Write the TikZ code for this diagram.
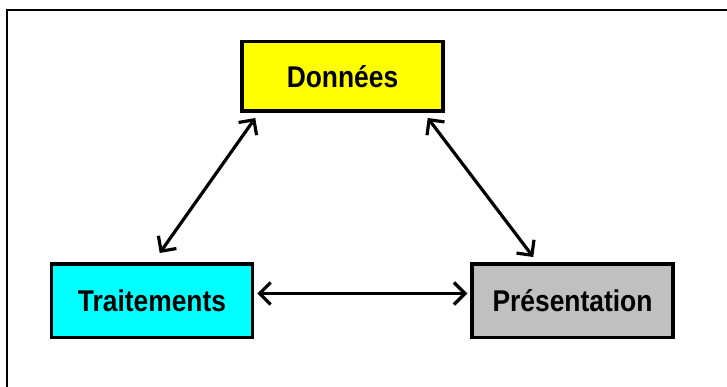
\documentclass[tikz,border=0pt]{standalone}
\usepackage{fontspec}
\setmainfont{Liberation Sans}
\newfontfamily\labelfont[FakeStretch=0.88]{Liberation Sans Bold}
\usetikzlibrary{arrows.meta,calc}
\definecolor{boxyellow}{RGB}{255,255,0}
\definecolor{boxcyan}{RGB}{0,255,255}
\definecolor{boxgray}{RGB}{192,192,192}
\begin{document}
\begin{tikzpicture}[x=1pt,y=-1pt,
  block/.style={draw=black,line width=3.5pt,minimum width=201pt,
    inner sep=0pt,font=\labelfont\fontsize{30}{34}\selectfont},
  link/.style={line width=3.2pt,{Straight Barb[length=11pt,width=22pt]}-{Straight Barb[length=11pt,width=22pt]}}]
  \useasboundingbox (0,0) rectangle (727,387);
  % clipped frame: only its top and left sides
  \draw[line width=2pt] (7,387) -- (7,10) -- (727,10);
  % the three blocks
  \node[block,fill=boxyellow,minimum height=69.5pt] (don) at (342.5,76.5) {Données};
  \node[block,fill=boxcyan,minimum height=73.5pt] (tra) at (152,300.5) {Traitements};
  \node[block,fill=boxgray,minimum height=73.5pt] (pre) at (572.5,300.5) {Présentation};
  % two-way links
  \draw[link] ($(don.south west)+(15,5)$) -- ($(tra.north west)+(110,-9)$);
  \draw[link] ($(don.south east)+(-17,5)$) -- ($(pre.north west)+(63,-5)$);
  \draw[link] ($(tra.east)+(3,-7)$) -- ($(pre.west)+(-3,-7)$);
\end{tikzpicture}
\end{document}
